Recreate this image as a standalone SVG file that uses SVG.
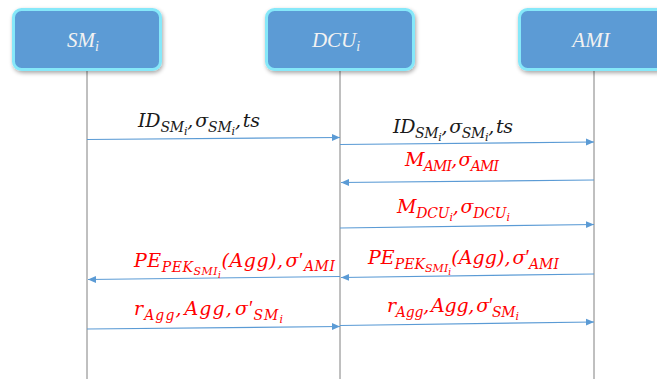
<svg xmlns="http://www.w3.org/2000/svg" width="657" height="379" viewBox="0 0 657 379">
  <style>
    .box { fill: #5B9BD5; stroke: #86E8F9; stroke-width: 3; }
    .lifeline { stroke: #808080; stroke-width: 1; }
    .msg { stroke: #5B9BD5; stroke-width: 1.2; fill: none; marker-end: url(#arrow); }
    .title { font-family: "Liberation Serif", serif; font-style: italic; font-size: 21px; fill: #F2F2F2; }
    .lbl { font-family: "DejaVu Serif", serif; font-style: italic; font-size: 19px; }
    .blk { fill: #1A1A1A; }
    .red { fill: #FF0000; }
    .s { font-size: 14px; }
    .ss { font-size: 11px; }
    .sss { font-size: 9px; }
    .pr { font-family: "Liberation Serif", serif; font-style: normal; font-size: 20px; }
  </style>
  <defs>
    <marker id="arrow" viewBox="0 0 8 8" refX="8" refY="4" markerWidth="8" markerHeight="8" markerUnits="userSpaceOnUse" orient="auto">
      <path d="M0,0.5 L8,4 L0,7.5 Z" fill="#5B9BD5"/>
    </marker>
    <filter id="shadow" x="-10%" y="-20%" width="130%" height="150%">
      <feGaussianBlur in="SourceAlpha" stdDeviation="2"/>
      <feOffset dx="1" dy="2" result="b"/>
      <feComponentTransfer><feFuncA type="linear" slope="0.35"/></feComponentTransfer>
      <feMerge><feMergeNode/><feMergeNode in="SourceGraphic"/></feMerge>
    </filter>
  </defs>

  <!-- lifelines -->
  <g id="lifelines">
    <line class="lifeline" x1="87" y1="70" x2="87" y2="379"/>
    <line class="lifeline" x1="340" y1="70" x2="340" y2="379"/>
    <line class="lifeline" x1="594" y1="70" x2="594" y2="379"/>
  </g>

  <!-- participants -->
  <g id="node-sm">
    <rect class="box" x="13.5" y="9.5" width="147" height="60" rx="8" filter="url(#shadow)"/>
    <text class="title" x="83" y="47" text-anchor="middle">SM<tspan class="s" dy="4">i</tspan></text>
  </g>
  <g id="node-dcu">
    <rect class="box" x="266.5" y="9.5" width="147" height="60" rx="8" filter="url(#shadow)"/>
    <text class="title" x="336" y="47" text-anchor="middle">DCU<tspan class="s" dy="4">i</tspan></text>
  </g>
  <g id="node-ami">
    <rect class="box" x="519.5" y="9.5" width="150" height="60" rx="8" filter="url(#shadow)"/>
    <text class="title" x="591" y="47" text-anchor="middle">AMI</text>
  </g>

  <!-- messages -->
  <g id="connectors">
    <line class="msg" x1="87" y1="139.5" x2="340" y2="137.5"/>
    <line class="msg" x1="340" y1="144.5" x2="594" y2="142"/>
    <line class="msg" x1="594" y1="180" x2="341" y2="182.5"/>
    <line class="msg" x1="340" y1="228" x2="594" y2="224.5"/>
    <line class="msg" x1="594" y1="274" x2="341" y2="277.5"/>
    <line class="msg" x1="340" y1="276.5" x2="88" y2="279.5"/>
    <line class="msg" x1="87" y1="329" x2="340" y2="326.5"/>
    <line class="msg" x1="340" y1="325.5" x2="594" y2="322"/>
  </g>

  <!-- message labels -->
  <g id="labels">
    <text class="lbl blk" x="138" y="127" textLength="122">ID<tspan class="s" dy="5">SM</tspan><tspan class="ss" dy="3">i</tspan><tspan dy="-8">,</tspan><tspan dx="2">σ</tspan><tspan class="s" dy="5">SM</tspan><tspan class="ss" dy="3">i</tspan><tspan dy="-8">,</tspan><tspan dx="2">ts</tspan></text>
    <text class="lbl blk" x="393" y="133" textLength="120">ID<tspan class="s" dy="5">SM</tspan><tspan class="ss" dy="3">i</tspan><tspan dy="-8">,</tspan><tspan dx="2">σ</tspan><tspan class="s" dy="5">SM</tspan><tspan class="ss" dy="3">i</tspan><tspan dy="-8">,</tspan><tspan dx="2">ts</tspan></text>
    <text class="lbl red" x="405" y="166" textLength="94">M<tspan class="s" dy="5">AMI</tspan><tspan dy="-5">,</tspan><tspan dx="2">σ</tspan><tspan class="s" dy="5">AMI</tspan></text>
    <text class="lbl red" x="397" y="213" textLength="113">M<tspan class="s" dy="5">DCU</tspan><tspan class="ss" dy="3">i</tspan><tspan dy="-8">,</tspan><tspan dx="2">σ</tspan><tspan class="s" dy="5">DCU</tspan><tspan class="ss" dy="3">i</tspan></text>
    <text class="lbl red" x="134" y="267" textLength="201">PE<tspan class="s" dy="5">PEK</tspan><tspan class="ss" dy="3">SMI</tspan><tspan class="sss" dy="3">i</tspan><tspan dy="-11">(Agg),</tspan><tspan dx="2">σ</tspan><tspan class="pr">′</tspan><tspan class="s" dy="4">AMI</tspan></text>
    <text class="lbl red" x="368" y="264" textLength="191">PE<tspan class="s" dy="5">PEK</tspan><tspan class="ss" dy="3">SMI</tspan><tspan class="sss" dy="3">i</tspan><tspan dy="-11">(Agg),</tspan><tspan dx="2">σ</tspan><tspan class="pr">′</tspan><tspan class="s" dx="-1" dy="5">AMI</tspan></text>
    <text class="lbl red" x="134" y="315" textLength="149">r<tspan class="s" dy="5">Agg</tspan><tspan dy="-5">,</tspan><tspan dx="2">Agg,</tspan><tspan dx="2">σ</tspan><tspan class="pr">′</tspan><tspan class="s" dx="-1" dy="5">SM</tspan><tspan class="ss" dy="3">i</tspan></text>
    <text class="lbl red" x="387" y="312" textLength="132">r<tspan class="s" dy="5">Agg</tspan><tspan dy="-5">,</tspan><tspan dx="2">Agg,</tspan><tspan dx="2">σ</tspan><tspan class="pr">′</tspan><tspan class="s" dx="-1" dy="5">SM</tspan><tspan class="ss" dy="3">i</tspan></text>
  </g>
</svg>
